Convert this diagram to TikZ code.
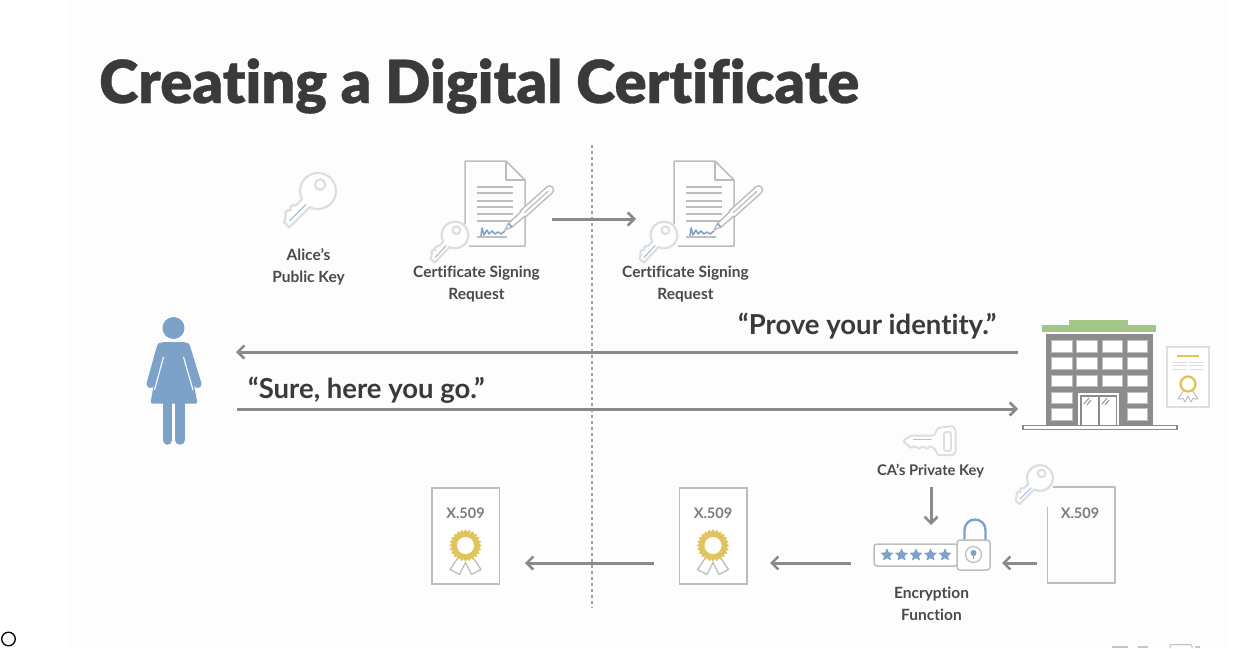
\documentclass[tikz,border=0pt]{standalone}
\usepackage{fontspec}
\setmainfont{Lato}[Ligatures=NoCommon]
\newfontfamily\titlefont{Lato Black}[Ligatures=NoCommon,FakeBold=0.6]
\usetikzlibrary{arrows.meta,shapes.geometric}
\definecolor{ink}{HTML}{3A3A3A}
\definecolor{label}{HTML}{4A4A4A}
\definecolor{flow}{HTML}{8A8A8A}
\definecolor{pale}{HTML}{DEDEDE}
\definecolor{docline}{HTML}{BDBDBD}
\definecolor{blueA}{HTML}{7DA2C9}
\definecolor{goldA}{HTML}{E2C45F}
\definecolor{greenA}{HTML}{A3C586}
\definecolor{bld}{HTML}{8C8C8C}
\tikzset{
  flowarrow/.style={draw=flow,line width=3pt,-{Straight Barb[length=6.5pt,width=13pt,line width=2.6pt]}},
  lbl/.style={font=\bfseries\fontsize{15.5}{22.5}\selectfont,text=label,align=center,inner sep=0pt},
  quote/.style={font=\bfseries\fontsize{27.5}{30}\selectfont,text=ink,anchor=west,inner sep=0pt},
  xlabel/.style={font=\bfseries\fontsize{14.5}{16}\selectfont,text=flow!90!black,inner sep=0pt},
  xdoc/.style={draw=docline,line width=1.6pt,fill=white},
  pubkey/.pic={
    \begin{scope}[yscale=-1]
    \draw[pale,line width=2.2pt,fill=white,line join=round]
      (162:18) arc[start angle=162,end angle=-162,radius=18]
      -- (-26,-5.5) -- (-28,-8) -- (-31,-8) -- (-33,-5.5) -- (-35,-8) -- (-38,-8) -- (-40,-5.5)
      -- (-46,-2) -- (-46,5.5) -- cycle;
    \draw[pale,line width=2.2pt] (6,-3) circle[radius=5.2];
    \draw[blueA!75!white,line width=1pt] (-18,1) -- (-41,1);
    \end{scope}
  },
  rosette/.pic={
    \begin{scope}[yscale=-1]
    \draw[docline,line width=1.3pt,line join=round,fill=white]
      (-6,10) -- (-15.5,24) -- (-6,29) -- (0,17) -- (6,29) -- (15.5,24) -- (6,10);
    \fill[goldA] plot[samples=145,domain=0:360,smooth] (\x:{15+1.1*cos(24*\x)}) -- cycle;
    \fill[white] (0,0) circle[radius=8.5];
    \end{scope}
  },
  signeddoc/.pic={
    \begin{scope}[yscale=-1]
    \draw[docline,line width=1.5pt,line join=round]
      (1,64) -- (1,1) -- (42,1) -- (61,20) -- (61,86) -- (5,86);
    \draw[docline,line width=1.5pt,line join=round] (42,1) -- (42,20) -- (61,20);
    \foreach \yy in {27,33,41,47,54,61}{\draw[docline,line width=1.3pt] (13,\yy) -- (49,\yy);}
    \draw[docline,line width=1.3pt] (13,77) -- (43,77);
    \draw[blueA,line width=1.5pt,line join=round]
      (17,76) -- (18,68) -- (20,75) -- (23,70) -- (25,74) -- (28,71) -- (31,74) -- (34,72) -- (37,74) -- (41,71);
    \begin{scope}[shift={(41,70)},rotate=-42]
      \draw[docline,line width=1.4pt,fill=white,line join=round]
        (0,0) -- (7,-2.5) -- (24,-3) -- (24,-4) -- (60,-4) arc[start angle=-90,end angle=90,radius=4] -- (24,4) -- (24,3) -- (7,2.5) -- cycle;
      \draw[blueA,line width=1.5pt] (7,-2.5) -- (7,2.5);
      \draw[docline,line width=1.2pt] (26,0) -- (58,0);
    \end{scope}
    \end{scope}
  }
}
\begin{document}
\begin{tikzpicture}[x=1pt,y=1pt,yscale=-1]
\useasboundingbox (0,0) rectangle (1236,648);
\fill[white] (0,0) rectangle (1236,648);
\fill[black!.7] (66,0) rectangle (1228,648);

% title
\node[font=\titlefont\fontsize{59.4}{62}\selectfont,text=ink,anchor=west,inner sep=0pt] (title) at (99,86) {Creating a Digital Certificate};

% divider
\coordinate (divtop) at (592,145);
\coordinate (divbot) at (592,608);
\draw[flow!80,line width=1.2pt,dash pattern=on 2.5pt off 3.5pt] (divtop) -- (divbot);

% Alice's key
\pic (alicekey) at (318,191) [rotate=45] {pubkey};
\node[lbl] (alicelabel) at (308.5,267) {Alice’s\\Public Key};

% CSR left
\pic (csrL) at (464,160) {signeddoc};
\pic (csrLkey) at (455,235) [rotate=47,scale=.74] {pubkey};
\node[lbl] (csrLlabel) at (476.5,284) {Certificate Signing\\Request};

% CSR right
\pic (csrR) at (673,160) {signeddoc};
\pic (csrRkey) at (664,235) [rotate=47,scale=.74] {pubkey};
\node[lbl] (csrRlabel) at (685.5,284) {Certificate Signing\\Request};

\coordinate (csrOut) at (552,219);
\coordinate (csrIn) at (636,219);
\draw[flowarrow] (csrOut) -- (csrIn);

% person
\fill[blueA] (173.5,328) circle[radius=11];
\fill[blueA,rounded corners=2pt] (161,342) -- (186,342) -- (197.5,403.5) -- (150.5,403.5) -- cycle;
\draw[blueA,line width=8pt,line cap=round] (161,346.5) -- (150.5,384);
\draw[blueA,line width=8pt,line cap=round] (186,346.5) -- (197.5,384);
\draw[white,line width=1.1pt] (163.5,357) -- (154.5,390);
\draw[white,line width=1.1pt] (183.5,357) -- (193,390);
\draw[blueA,line width=9.5pt,line cap=round] (167.5,400) -- (167.5,440);
\draw[blueA,line width=9.5pt,line cap=round] (180,400) -- (180,440);
\coordinate (aliceN) at (236,352);
\coordinate (aliceS) at (237,409);

% building
\fill[greenA] (1069,320) rectangle (1128,326);
\fill[greenA] (1042,325) rectangle (1156,332);
\fill[bld] (1046,334) rectangle (1153,425);
\foreach \xa/\xb in {1051/1072,1076/1097,1102/1122,1127/1147}{
  \foreach \ya/\yb in {340/352,357/369,375/386}{
    \draw[black!25,line width=.7pt,fill=white] (\xa,\ya) rectangle (\xb,\yb);
  }
}
\foreach \xa/\xb in {1051/1072,1127/1147}{
  \foreach \ya/\yb in {392/403,408/420}{
    \draw[black!25,line width=.7pt,fill=white] (\xa,\ya) rectangle (\xb,\yb);
  }
}
\draw[white,line width=1.2pt] (1079,425) -- (1079,394) -- (1118,394) -- (1118,425);
\fill[white] (1082,396.5) rectangle (1097.5,425);
\fill[white] (1100,396.5) rectangle (1115.5,425);
\draw[bld,line width=.9pt] (1084,404) -- (1089,398) (1087,405) -- (1091,400) (1102,404) -- (1107,398) (1105,405) -- (1109,400);
\draw[bld,line width=1.3pt,fill=white] (1023,425.5) rectangle (1177,429.5);
\coordinate (caN) at (1018,352);
\coordinate (caS) at (1018,409);

\draw[flowarrow] (caN) -- (aliceN);
\draw[flowarrow] (aliceS) -- (caS);
\node[quote] (prove) at (738,326.5) {“Prove your identity.”};
\node[quote] (sure) at (248,390.5) {“Sure, here you go.”};

% CA certificate
\draw[pale,line width=1.3pt,fill=white] (1167,347) rectangle (1209,407);
\draw[goldA,line width=2pt] (1177,356) -- (1199,356);
\foreach \yy in {362,365.5,369}{
  \draw[pale,line width=.9pt] (1172,\yy) -- (1187,\yy) (1189,\yy) -- (1204,\yy);
}
\draw[docline,line width=1pt,line join=round,fill=white]
  (1184,390) -- (1178,399) -- (1183,398.5) -- (1185,402) -- (1188,396) -- (1191,402) -- (1193,398.5) -- (1198,399) -- (1192,390);
\draw[goldA,line width=2.4pt,fill=white] (1188,384) circle[radius=7.5];

% CA private key
\draw[pale,line width=2pt,fill=white,line join=round,rounded corners=1pt]
  (934,435.5) -- (938,428) -- (953,426) -- (955.5,430) -- (955.5,452) -- (953,455) -- (938,455) -- (934,448)
  -- (930,446) -- (927,449) -- (923,446) -- (919,449) -- (915,446) -- (911,448) -- (903,441) -- (911,435.5) -- cycle;
\draw[pale,line width=1.8pt,rounded corners=2pt] (944,432) rectangle (951,451);
\draw[goldA,line width=1.8pt] (913,439.5) -- (932,439.5);
\node[lbl,font=\bfseries\fontsize{14.7}{20}\selectfont] (calabel) at (930.5,471) {CA’s Private Key};

% encryption function
\coordinate (keyOut) at (931,487);
\coordinate (encIn) at (931,525);
\draw[flowarrow] (keyOut) -- (encIn);
\draw[blueA,line width=2.4pt] (964.5,540) -- (964.5,530) arc[start angle=180,end angle=360,radius=10.5] -- (985.5,540);
\draw[docline,line width=1.5pt,fill=white,rounded corners=3pt] (874,544) rectangle (958,566);
\foreach \sx in {887,901.5,916,930.5,945}{
  \node[star,star points=5,star point ratio=2.1,fill=blueA,inner sep=0pt,minimum size=13.5pt] (s\sx) at (\sx,555) {};
}
\draw[docline,line width=1.5pt,fill=white,rounded corners=3pt] (957,540) rectangle (990,570);
\draw[docline,line width=1.2pt] (973.5,554.5) circle[radius=8];
\fill[blueA] (973.5,553) circle[radius=3];
\fill[blueA] (972.6,553) rectangle (974.4,559);
\node[lbl] (enclabel) at (931.5,604) {Encryption\\Function};

% right X.509 with key
\draw[docline,line width=1.5pt,line join=round] (1053,487) -- (1115,487) -- (1115,583) -- (1047.5,583) -- (1047.5,507);
\node[xlabel] (xr) at (1080,513.5) {X.509};
\pic (xrkey) at (1040,478) [rotate=45,scale=.72] {pubkey};

% middle and left X.509
\draw[xdoc] (679.5,488) rectangle (747,584);
\node[xlabel] (xm) at (713,513) {X.509};
\pic (rosm) at (713,545.5) {rosette};
\draw[xdoc] (432,488) rectangle (499.5,584);
\node[xlabel] (xl) at (465.5,513) {X.509};
\pic (rosl) at (465.5,545.5) {rosette};

\coordinate (xrOut) at (1037,563);
\coordinate (lockIn) at (1002,563);
\coordinate (encOut) at (851,563);
\coordinate (xmIn) at (770,563);
\coordinate (xmOut) at (654,563);
\coordinate (xlIn) at (525,563);
\draw[flowarrow] (xrOut) -- (lockIn);
\draw[flowarrow] (encOut) -- (xmIn);
\draw[flowarrow] (xmOut) -- (xlIn);

% list bullet
\draw[black,line width=1.3pt,fill=white] (8.5,639) circle[radius=6.8];

% cut-off marks at the lower right
\fill[black!22] (1112,645.5) rectangle (1128,648);
\fill[black!22] (1138,645.5) rectangle (1148,648);
\draw[black!25,line width=1pt,rounded corners=2pt] (1170,648) -- (1170,644.5) -- (1192,644.5) -- (1192,648);
\fill[black!22] (1195,645.5) rectangle (1200,648);
\end{tikzpicture}
\end{document}
